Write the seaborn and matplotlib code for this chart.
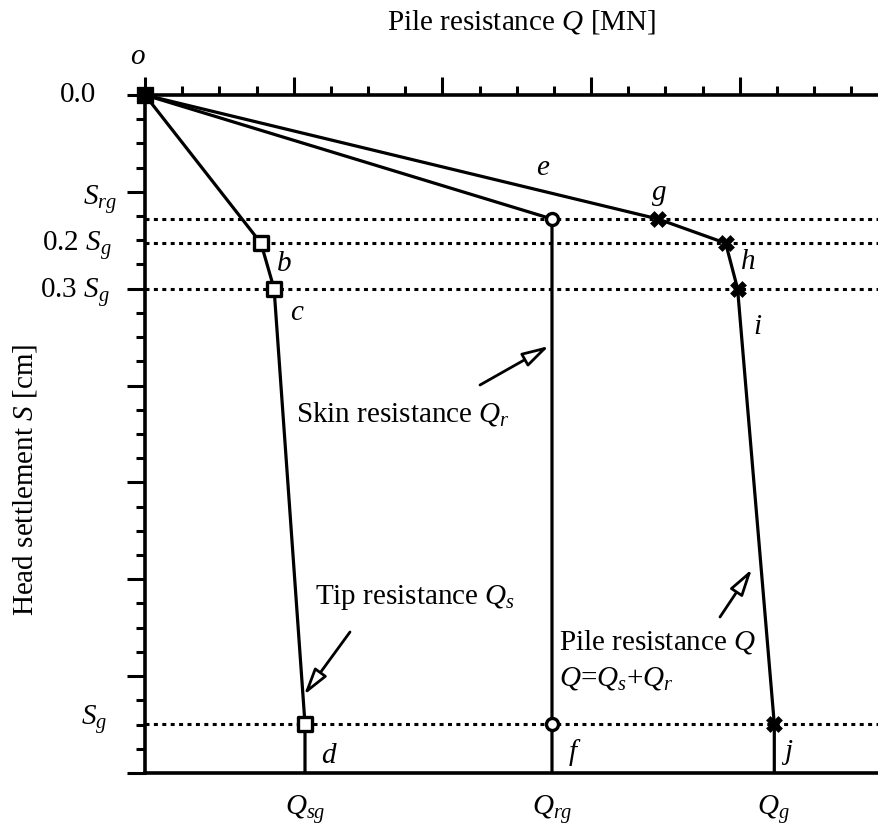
import matplotlib
matplotlib.use("Agg")
import matplotlib.pyplot as plt
import seaborn as sns
import pandas as pd
from matplotlib.ticker import MultipleLocator, NullFormatter

# ---------------- data (schematic units: Q in MN, S in cm) ----------------
tip_Q = [0.0, 0.780, 0.868, 1.076, 1.076]
tip_S = [0.0, 1.530, 2.000, 6.494, 7.0]
skin_Q = [0.0, 2.737, 2.737, 2.737]
skin_S = [0.0, 1.280, 6.494, 7.0]
pile_Q = [0.0, 3.450, 3.905, 3.985, 4.232, 4.232]
pile_S = [0.0, 1.280, 1.530, 2.000, 6.494, 7.0]

sq_Q = [0.780, 0.868, 1.076]
sq_S = [1.530, 2.000, 6.494]
circ_Q = [2.737, 2.737]
circ_S = [1.280, 6.494]
x_Q = [3.450, 3.905, 3.985, 4.232]
x_S = [1.280, 1.530, 2.000, 6.494]

levels_S = [1.280, 1.530, 2.000, 6.494]

sns.set_theme(style="white")
plt.rcParams["font.family"] = ["Liberation Serif", "DejaVu Serif"]
plt.rcParams["mathtext.fontset"] = "custom"
plt.rcParams["mathtext.rm"] = "Liberation Serif"
plt.rcParams["mathtext.it"] = "Liberation Serif:italic"
plt.rcParams["mathtext.bf"] = "Liberation Serif:bold"
plt.rcParams["text.color"] = "black"
plt.rcParams["axes.labelcolor"] = "black"

W, H = 879, 830
fig = plt.figure(figsize=(W / 100, H / 100), dpi=100)
X0, X1, Y0, Y1 = 145, 879, 95, 773   # axes box in pixels
ax = fig.add_axes([X0 / W, 1 - Y1 / H, (X1 - X0) / W, (Y1 - Y0) / H])
XU = 148.7  # pixels per major x unit
YU = (Y1 - Y0) / 7.0
ax.set_xlim(0, (X1 - X0) / XU)
ax.set_ylim(7.0, 0.0)

def d(px, py):
    return ((px - X0) / XU, (py - Y0) / YU)

FS = 21
LW = 2.3

# dotted level lines
for s in levels_S:
    ax.axhline(s, color="black", lw=2.2, linestyle=(0, (1.3, 1.45)),
               dash_capstyle="butt", zorder=1)

# curves
for q, s in [(tip_Q, tip_S), (skin_Q, skin_S), (pile_Q, pile_S)]:
    sns.lineplot(x=q, y=s, sort=False, estimator=None, color="black",
                 lw=LW, ax=ax, zorder=2)

# markers
sns.scatterplot(x=sq_Q, y=sq_S, marker="s", s=95, facecolor="white",
                edgecolor="black", linewidth=2.4, ax=ax, zorder=4)
sns.scatterplot(x=circ_Q, y=circ_S, marker="o", s=75, facecolor="white",
                edgecolor="black", linewidth=2.4, ax=ax, zorder=4)
sns.scatterplot(x=x_Q, y=x_S, marker="X", s=130, color="black",
                edgecolor="black", linewidth=0.5, ax=ax, zorder=4)
sns.scatterplot(x=[0.0], y=[0.0], marker="s", s=140, color="black",
                edgecolor="black", ax=ax, zorder=5, clip_on=False)

# spines & ticks
for side in ["left", "top", "bottom"]:
    ax.spines[side].set_visible(True)
    ax.spines[side].set_color("black")
    ax.spines[side].set_linewidth(2.6)
ax.spines["right"].set_visible(False)
ax.xaxis.set_ticks_position("top")
ax.xaxis.set_major_locator(MultipleLocator(1.0))
ax.xaxis.set_minor_locator(MultipleLocator(0.25))
ax.yaxis.set_major_locator(MultipleLocator(1.0))
ax.yaxis.set_minor_locator(MultipleLocator(0.25))
ax.xaxis.set_major_formatter(NullFormatter())
ax.yaxis.set_major_formatter(NullFormatter())
ax.tick_params(axis="both", which="major", direction="out", length=13,
               width=2.2, color="black")
ax.tick_params(axis="both", which="minor", direction="out", length=6.5,
               width=2.2, color="black")
ax.tick_params(axis="x", which="both", top=True, bottom=False)
ax.tick_params(axis="y", which="both", left=True, right=False)

# axis labels
ax.xaxis.set_label_position("top")
ax.set_xlabel("Pile resistance $Q$ [MN]", fontsize=FS, color="black")
ax.xaxis.label.set_va("center")
ax.xaxis.set_label_coords((522 - X0) / (X1 - X0), (Y1 - 22) / (Y1 - Y0))
ax.set_ylabel("Head settlement $S$ [cm]", fontsize=FS, color="black")
ax.yaxis.label.set_va("center")
ax.yaxis.set_label_coords((25 - X0) / (X1 - X0), (Y1 - 480) / (Y1 - Y0))

def txt(px, py, s, ha="center", va="center", italic=False):
    ax.text(*d(px, py), s, fontsize=FS, ha=ha, va=va, color="black",
            style="italic" if italic else "normal", clip_on=False)

# left level labels
txt(96, 95, "0.0", ha="right")
txt(117, 200, "$S_{rg}$", ha="right")
txt(112, 246, "0.2 $S_g$", ha="right")
txt(110, 293, "0.3 $S_g$", ha="right")
txt(107, 719, "$S_g$", ha="right")

# bottom labels
txt(305, 809, "$Q_{sg}$")
txt(552, 809, "$Q_{rg}$")
txt(773, 809, "$Q_g$")

# point letters
for px, py, s in [(137, 57, "o"), (284, 264, "b"), (297, 313, "c"),
                  (328, 756, "d"), (543, 168, "e"), (573, 753, "f"),
                  (659, 193, "g"), (748, 262, "h"), (757, 327, "i"),
                  (788, 752, "j")]:
    txt(px, py, s, italic=True)

# curve names
txt(315, 598, "Tip resistance $Q_s$", ha="left")
txt(296, 414, "Skin resistance $Q_r$", ha="left")
txt(559, 642, "Pile resistance $Q$", ha="left")
txt(559, 679, "$Q$=$Q_s$+$Q_r$", ha="left")

# arrows (tail -> head)
for tail, head in [((350, 632), (304, 695)), ((480, 385), (549, 346)),
                   ((720, 617), (752, 569))]:
    ax.annotate("", xy=d(*head), xytext=d(*tail),
                arrowprops=dict(arrowstyle="-|>,head_length=0.9,head_width=0.25",
                                mutation_scale=18, lw=2.0, fc="white",
                                ec="black", shrinkA=0, shrinkB=0),
                annotation_clip=False)

fig.savefig("out.png", dpi=100)
